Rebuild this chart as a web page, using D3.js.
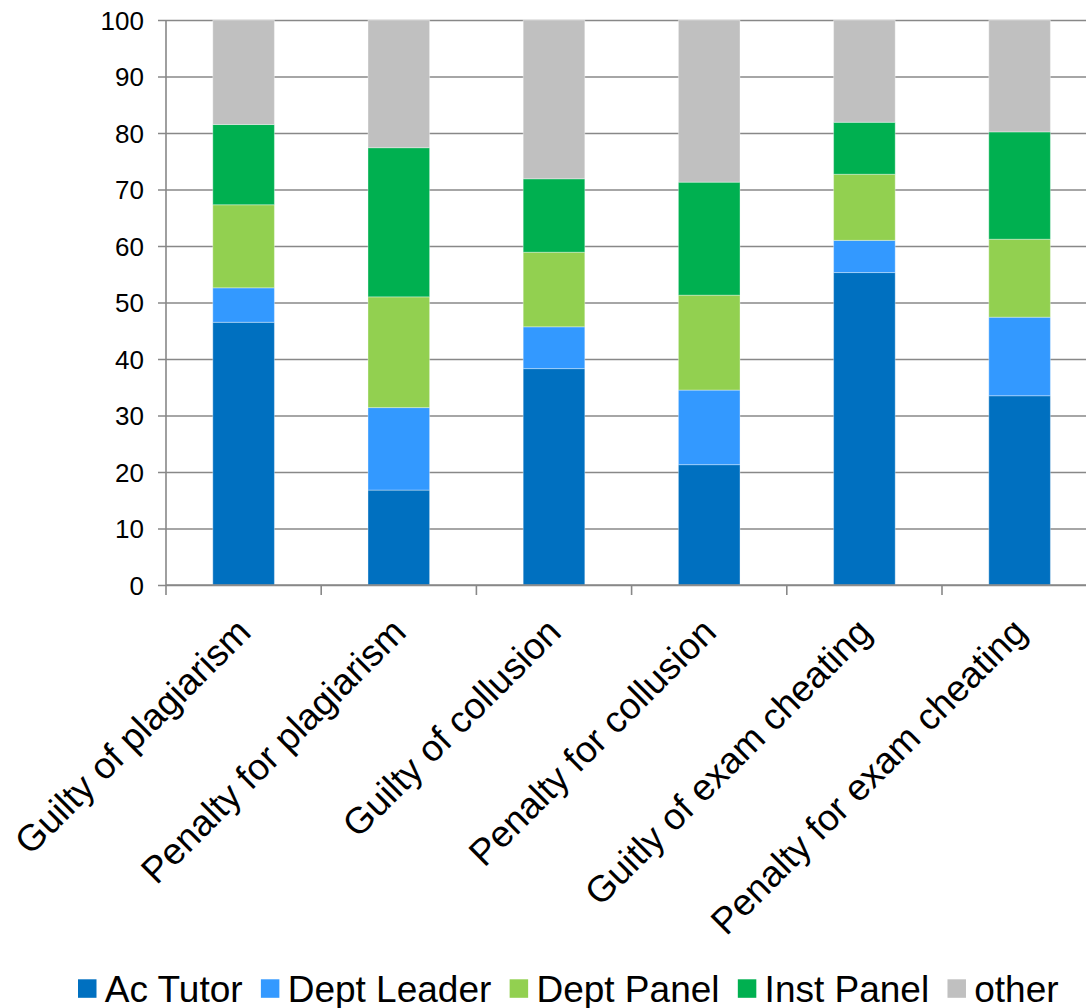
<!DOCTYPE html>
<html>
<head>
<meta charset="utf-8">
<script src="https://cdn.jsdelivr.net/npm/d3@7/dist/d3.min.js"></script>
<style>
  html, body { margin: 0; padding: 0; background: #ffffff; }
  svg { display: block; font-family: "Liberation Sans", Arial, sans-serif; }
</style>
</head>
<body>
<svg id="chart" width="1086" height="1008"></svg>
<script>
// Who decided each outcome, as a percentage of cases per category
const categories = [
  "Guilty of plagiarism",
  "Penalty for plagiarism",
  "Guilty of collusion",
  "Penalty for collusion",
  "Guitly of exam cheating",
  "Penalty for exam cheating"
];
const seriesNames = ["Ac Tutor", "Dept Leader", "Dept Panel", "Inst Panel", "other"];
const acTutor    = [46.5, 16.8, 38.3, 21.3, 55.3, 33.5];
const deptLeader = [ 6.1, 14.6,  7.4, 13.2,  5.7, 13.9];
const deptPanel  = [14.7, 19.6, 13.2, 16.8, 11.7, 13.8];
const instPanel  = [14.2, 26.4, 13.0, 20.0,  9.2, 19.0];
const other      = [18.5, 22.6, 28.1, 28.7, 18.1, 19.8];
const yTicks = [0, 10, 20, 30, 40, 50, 60, 70, 80, 90, 100];
const seriesColors = ["#0070C0", "#3399FF", "#92D050", "#00B050", "#C0C0C0"];

const seriesValues = [acTutor, deptLeader, deptPanel, instPanel, other];
const rows = categories.map((c, i) => {
  const r = { category: c };
  seriesNames.forEach((s, k) => { r[s] = seriesValues[k][i]; });
  return r;
});

const svg = d3.select("#chart");
const plotLeft = 166, plotTop = 20, plotBottom = 585;
const step = 155.2;
const plotRight = plotLeft + step * categories.length;

const x = d3.scaleBand()
  .domain(categories)
  .range([plotLeft, plotRight])
  .paddingInner(0.603)
  .paddingOuter(0.3015);

const y = d3.scaleLinear().domain([0, 100]).range([plotBottom, plotTop]);
const color = d3.scaleOrdinal().domain(seriesNames).range(seriesColors);

// horizontal gridlines with short ticks left of the value axis
const yAxis = d3.axisLeft(y)
  .tickValues(yTicks)
  .tickSize(-(1086 - plotLeft))
  .tickPadding(0)
  .tickFormat(d3.format("d"));

const gy = svg.append("g")
  .attr("transform", `translate(${plotLeft},0)`)
  .call(yAxis);
gy.select(".domain").remove();
gy.selectAll(".tick line")
  .attr("x1", -8)
  .attr("stroke", "#888888")
  .attr("stroke-width", 1.6);
gy.selectAll(".tick text")
  .attr("x", -22)
  .attr("dy", "0.36em")
  .attr("fill", "#000")
  .style("font-size", "26px");

// stacked bars
const stacked = d3.stack().keys(seriesNames)(rows);
svg.append("g")
  .selectAll("g")
  .data(stacked)
  .join("g")
  .attr("fill", d => color(d.key))
  .selectAll("rect")
  .data(d => d)
  .join("rect")
  .attr("x", d => x(d.data.category))
  .attr("width", x.bandwidth())
  .attr("y", d => y(d[1]))
  .attr("height", d => y(d[0]) - y(d[1]))
  .attr("stroke", "rgba(255,255,255,0.35)")
  .attr("stroke-width", 1);

// value axis line
svg.append("line")
  .attr("x1", plotLeft).attr("x2", plotLeft)
  .attr("y1", y(100)).attr("y2", plotBottom)
  .attr("stroke", "#888888").attr("stroke-width", 1.6);

// category axis with boundary ticks
const boundaries = d3.range(categories.length + 1).map(i => plotLeft + i * step);
svg.append("line")
  .attr("x1", plotLeft).attr("x2", 1086)
  .attr("y1", plotBottom).attr("y2", plotBottom)
  .attr("stroke", "#888888").attr("stroke-width", 1.6);
svg.append("g")
  .selectAll("line")
  .data(boundaries)
  .join("line")
  .attr("x1", d => d).attr("x2", d => d)
  .attr("y1", plotBottom).attr("y2", plotBottom + 10)
  .attr("stroke", "#888888").attr("stroke-width", 1.6);

// rotated category labels
svg.append("g")
  .selectAll("text")
  .data(categories)
  .join("text")
  .attr("transform", d => `translate(${x(d) + x.bandwidth() / 2},${plotBottom + 40}) rotate(-45)`)
  .attr("text-anchor", "end")
  .attr("dy", "0.35em")
  .attr("fill", "#000")
  .style("font-size", "37px")
  .text(d => d);

// legend
const legend = svg.append("g");
let lx = 78;
seriesNames.forEach(name => {
  legend.append("rect")
    .attr("x", lx).attr("y", 979.3)
    .attr("width", 18.5).attr("height", 18.5)
    .attr("fill", color(name));
  const t = legend.append("text")
    .attr("x", lx + 18.5 + 8.3)
    .attr("y", 1001.5)
    .attr("fill", "#000")
    .style("font-size", "37px")
    .text(name);
  lx += 18.5 + 8.3 + t.node().getComputedTextLength() + 18.3;
});
</script>
</body>
</html>
